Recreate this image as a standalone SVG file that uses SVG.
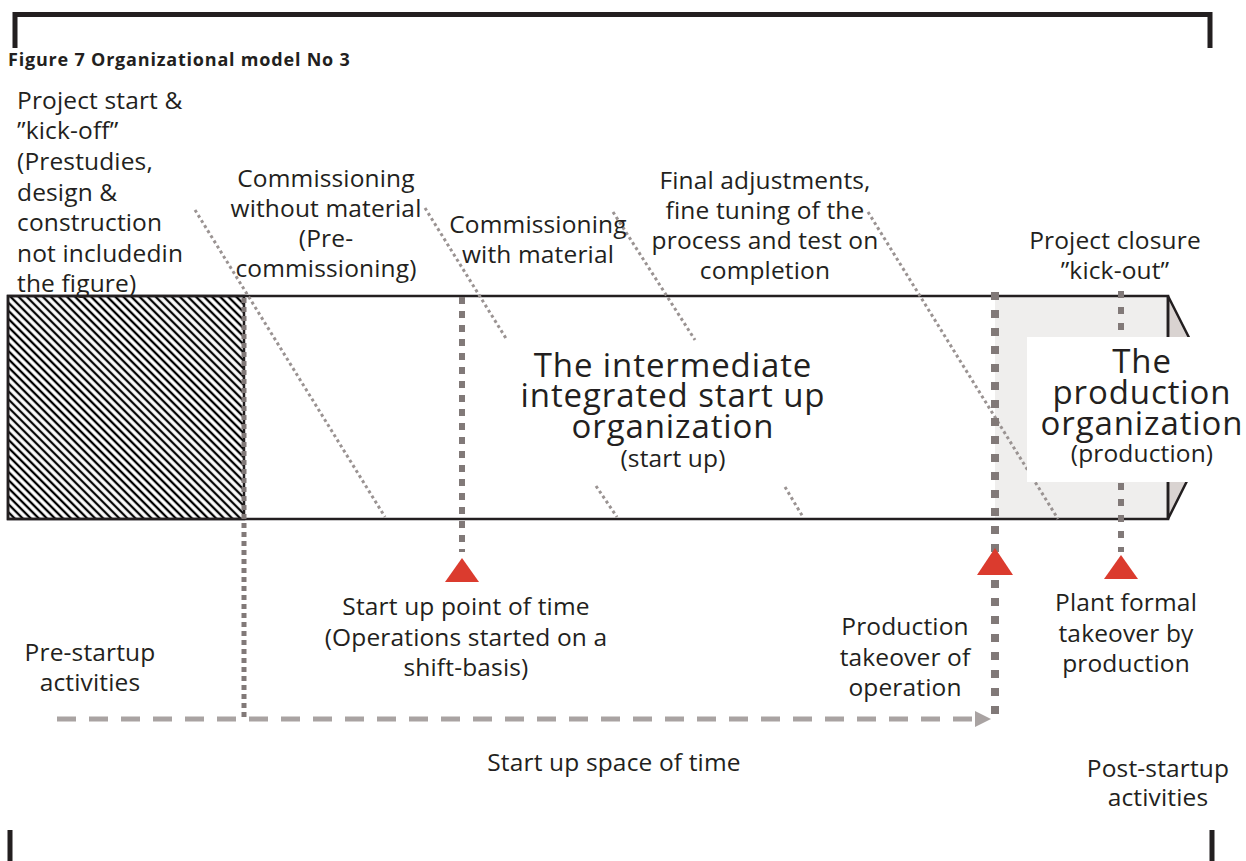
<svg xmlns="http://www.w3.org/2000/svg" width="1246" height="861" viewBox="0 0 1246 861">
  <defs>
    <style>
      text { font-family: "Open Sans", "Noto Sans", "DejaVu Sans", sans-serif; fill: #231f20; }
      .lbl { font-size: 24.5px; letter-spacing: 0.15px; text-anchor: middle; }
      .lbll { font-size: 24.5px; letter-spacing: 0.15px; }
      .big { font-size: 33px; letter-spacing: 0.9px; text-anchor: middle; }
      .title { font-size: 18px; font-weight: bold; letter-spacing: 0.8px; }
      .frame { stroke: #231f20; stroke-width: 5; fill: none; }
      .diag { stroke: #9a9392; stroke-width: 3; stroke-dasharray: 3 3; fill: none; }
      .vdot { stroke: #817978; fill: none; }
      .tri { fill: #db3b2e; }
    </style>
    <pattern id="hatch" width="5.7" height="8" patternUnits="userSpaceOnUse" patternTransform="rotate(-45)">
      <rect width="5.7" height="8" fill="#ffffff"/>
      <line x1="2.85" y1="0" x2="2.85" y2="8" stroke="#000000" stroke-width="2.3"/>
    </pattern>
  </defs>

  <g id="frame">
    <path class="frame" d="M15 48 V14.5 H1210 V48"/>
    <path class="frame" d="M10 830 V861 M1212 830 V861"/>
  </g>

  <text class="title" x="8" y="66">Figure 7 Organizational model No 3</text>

  <g id="band">
    <rect x="8" y="296" width="1160" height="223" fill="#ffffff" stroke="none"/>
    <rect x="995" y="296" width="173" height="223" fill="#efeeed"/>
    <polygon points="1168,296 1224,407 1168,519" fill="#d9d3d1" stroke="#231f20" stroke-width="2.5"/>
    <rect id="prestudies" x="8" y="296" width="236" height="223" fill="url(#hatch)" stroke="#231f20" stroke-width="2.5"/>
    <rect x="8" y="296" width="1160" height="223" fill="none" stroke="#231f20" stroke-width="2.5"/>
  </g>

  <g id="connectors">
    <line class="diag" x1="195" y1="210" x2="385" y2="517"/>
    <line class="diag" x1="425" y1="208" x2="507" y2="340"/>
    <line class="diag" x1="613" y1="212" x2="695" y2="340"/>
    <line class="diag" x1="596" y1="486" x2="617" y2="517"/>
    <line class="diag" x1="785" y1="487" x2="803" y2="517"/>
    <line class="diag" x1="868" y1="212" x2="1058" y2="519"/>

    <line class="vdot" x1="244" y1="298" x2="244" y2="718" stroke-width="5" stroke-dasharray="5 4"/>
    <line class="vdot" x1="462" y1="297" x2="462" y2="552" stroke-width="6" stroke-dasharray="7 7"/>
    <line class="vdot" x1="995" y1="292" x2="995" y2="720" stroke-width="8" stroke-dasharray="8 10"/>
    <line class="vdot" x1="1121" y1="291" x2="1121" y2="552" stroke-width="6" stroke-dasharray="7 9"/>

    <line x1="57" y1="719" x2="978" y2="719" stroke="#a9a3a2" stroke-width="5" stroke-dasharray="19 13"/>
    <polygon points="975,711 991,719 975,727" fill="#a9a3a2"/>
  </g>

  <g id="production">
    <rect x="1027" y="337" width="219" height="145" fill="#ffffff"/>
    <text class="big" x="1142" y="373">The</text>
    <text class="big" x="1142" y="404">production</text>
    <text class="big" x="1142" y="435">organization</text>
    <text class="lbl" x="1142" y="462">(production)</text>
  </g>

  <g id="intermediate">
    <text class="big" x="673" y="377">The intermediate</text>
    <text class="big" x="673" y="407">integrated start up</text>
    <text class="big" x="673" y="438">organization</text>
    <text class="lbl" x="673" y="467">(start up)</text>
  </g>

  <g id="markers">
    <polygon class="tri" points="462,558 445,582 479,582"/>
    <polygon class="tri" points="995,548 977,575 1013,575"/>
    <polygon class="tri" points="1121,555 1104,579 1138,579"/>
  </g>

  <g id="project-start">
    <text class="lbll" x="17" y="109">Project start &amp;</text>
    <text class="lbll" x="17" y="139">”kick-off”</text>
    <text class="lbll" x="17" y="170">(Prestudies,</text>
    <text class="lbll" x="17" y="201">design &amp;</text>
    <text class="lbll" x="17" y="231">construction</text>
    <text class="lbll" x="17" y="262">not includedin</text>
    <text class="lbll" x="17" y="292">the figure)</text>
  </g>

  <g id="commissioning-without">
    <text class="lbl" x="326" y="187">Commissioning</text>
    <text class="lbl" x="326" y="217">without material</text>
    <text class="lbl" x="326" y="247">(Pre-</text>
    <text class="lbl" x="326" y="277">commissioning)</text>
  </g>

  <g id="commissioning-with">
    <text class="lbl" x="538" y="233">Commissioning</text>
    <text class="lbl" x="538" y="263">with material</text>
  </g>

  <g id="final-adjustments">
    <text class="lbl" x="765" y="189">Final adjustments,</text>
    <text class="lbl" x="765" y="219">fine tuning of the</text>
    <text class="lbl" x="765" y="249">process and test on</text>
    <text class="lbl" x="765" y="279">completion</text>
  </g>

  <g id="project-closure">
    <text class="lbl" x="1115" y="249">Project closure</text>
    <text class="lbl" x="1115" y="279">”kick-out”</text>
  </g>

  <g id="startup-point">
    <text class="lbl" x="466" y="615">Start up point of time</text>
    <text class="lbl" x="466" y="646">(Operations started on a</text>
    <text class="lbl" x="466" y="676">shift-basis)</text>
  </g>

  <g id="production-takeover">
    <text class="lbl" x="905" y="635">Production</text>
    <text class="lbl" x="905" y="666">takeover of</text>
    <text class="lbl" x="905" y="696">operation</text>
  </g>

  <g id="plant-takeover">
    <text class="lbl" x="1126" y="611">Plant formal</text>
    <text class="lbl" x="1126" y="642">takeover by</text>
    <text class="lbl" x="1126" y="672">production</text>
  </g>

  <g id="pre-startup">
    <text class="lbl" x="90" y="661">Pre-startup</text>
    <text class="lbl" x="90" y="691">activities</text>
  </g>

  <g id="startup-space">
    <text class="lbl" x="614" y="771">Start up space of time</text>
  </g>

  <g id="post-startup">
    <text class="lbl" x="1158" y="777">Post-startup</text>
    <text class="lbl" x="1158" y="806">activities</text>
  </g>
</svg>
